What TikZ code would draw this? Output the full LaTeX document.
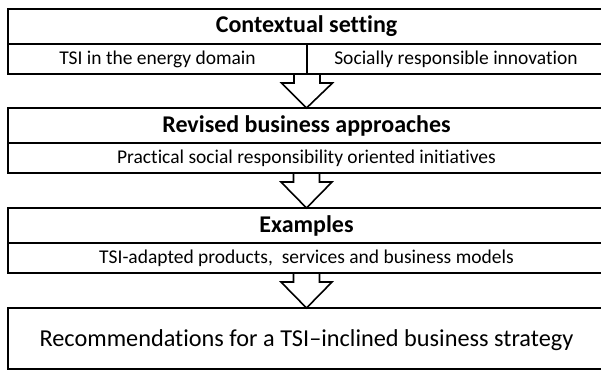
\documentclass[tikz,border=0pt]{standalone}
\usepackage{fontspec}
\setmainfont{Carlito}[Ligatures={NoCommon}]
\usetikzlibrary{calc}
\newcommand\myblockarrow[2]{%
  \draw[barrow] ($(#1)+(-13,0)$) -- ($(#1)+(-13,9)$) -- ($(#1)+(-25.5,9)$) -- (#2)
    -- ($(#1)+(25.5,9)$) -- ($(#1)+(13,9)$) -- ($(#1)+(13,0)$);}
\begin{document}
\begin{tikzpicture}[x=1pt,y=-1pt,
  cell/.style={draw, line width=2.2pt, inner sep=0pt, outer sep=0pt, anchor=north west, minimum width=597pt},
  head/.style={cell, minimum height=35pt, font=\fontsize{24}{28}\selectfont\bfseries},
  sub/.style={cell, minimum height=30pt, font=\fontsize{19.5}{23}\selectfont},
  barrow/.style={line width=1.6pt, miter limit=10}]
\useasboundingbox (0,0) rectangle (601,372);
% box 1
\node[head] (h1) at (8,9) {Contextual setting};
\node[sub, minimum width=299pt] (s1a) at (8,44) {TSI in the energy domain};
\node[sub, minimum width=298pt] (s1b) at (307,44) {Socially responsible innovation};
% box 2
\node[head] (h2) at (8,108) {Revised business approaches};
\node[sub] (s2) at (8,143) {Practical social responsibility oriented initiatives};
% box 3
\node[head] (h3) at (8,208) {Examples};
\node[sub] (s3) at (8,243) {TSI-adapted products,\ \ services and business models};
% box 4
\node[cell, minimum height=61pt, text depth=0pt, font=\fontsize{24.3}{28}\selectfont] (r4) at (8,308) {Recommendations for a TSI–inclined business strategy};
% arrows
\myblockarrow{s1a.south east}{h2.north}
\myblockarrow{s2.south}{h3.north}
\myblockarrow{s3.south}{r4.north}
\end{tikzpicture}
\end{document}
